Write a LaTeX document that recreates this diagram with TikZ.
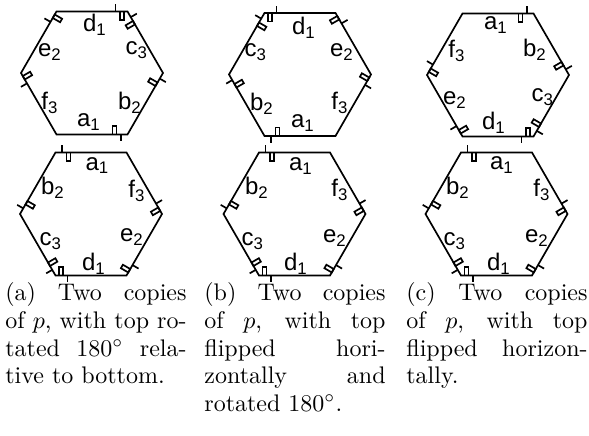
\documentclass[tikz,border=0pt]{standalone}
\usepackage{fontspec}
\newfontfamily\lblfont{Liberation Sans}
\begin{document}
\begin{tikzpicture}[x=0.4167pt, y=0.4167pt, line width=0.7pt,
        lbl/.style={font=\lblfont\fontsize{10}{12}\selectfont, inner sep=0pt},
        caption/.style={text width=75.5pt, align=justify, inner sep=0pt, anchor=north,
            font=\fontsize{10}{11.5}\selectfont},
        markedhex/.pic={
            % outline
            \draw (0:71) -- (60:71) -- (120:71) -- (180:71) -- (240:71) -- (300:71) -- cycle;
            % edges a, b, c: tick first, then flag
            \foreach \k in {0,1,2} {
                \begin{scope}[rotate=\k*60]
                    \draw (-29,61.5) -- (-29,68.5);
                    \draw (-24.5,61.5) rectangle (-20.5,53);
                \end{scope}
            }
            % edges d, e, f: flag first, then tick
            \foreach \k in {3,4,5} {
                \begin{scope}[rotate=\k*60]
                    \draw (23.5,61.5) -- (23.5,68.5);
                    \draw (28,61.5) rectangle (32,53);
                \end{scope}
            }
        }]
    \useasboundingbox (0,0) rectangle (589,436);

    % Hexagon centres
    \coordinate (TopA) at (92,363);
    \coordinate (BotA) at (91,222);
    \coordinate (TopB) at (300,361.5);
    \coordinate (BotB) at (294.5,222);
    \coordinate (TopC) at (498,361);
    \coordinate (BotC) at (496.5,222);

    % (a) top rotated 180
    \pic[rotate=180] at (TopA) {markedhex};
    \pic at (BotA) {markedhex};
    % (b) top flipped and rotated
    \pic[yscale=-1] at (TopB) {markedhex};
    \pic at (BotB) {markedhex};
    % (c) top flipped
    \pic[xscale=-1] at (TopC) {markedhex};
    \pic at (BotC) {markedhex};

    % Edge labels (a)
    \node[lbl] (ta-d) at (95,411) {d\textsubscript{1}};
    \node[lbl] (ta-e) at (50,384) {e\textsubscript{2}};
    \node[lbl] (ta-c) at (137,386) {c\textsubscript{3}};
    \node[lbl] (ta-f) at (50,333) {f\textsubscript{3}};
    \node[lbl] (ta-b) at (130,333) {b\textsubscript{2}};
    \node[lbl] (ta-a) at (89,314) {a\textsubscript{1}};
    \node[lbl] (ba-a) at (97.5,270.5) {a\textsubscript{1}};
    \node[lbl] (ba-b) at (53,248) {b\textsubscript{2}};
    \node[lbl] (ba-f) at (137,245) {f\textsubscript{3}};
    \node[lbl] (ba-c) at (51,195) {c\textsubscript{3}};
    \node[lbl] (ba-e) at (132,199) {e\textsubscript{2}};
    \node[lbl] (ba-d) at (94,172) {d\textsubscript{1}};

    % Edge labels (b)
    \node[lbl] (tb-d) at (304,408) {d\textsubscript{1}};
    \node[lbl] (tb-c) at (256,384) {c\textsubscript{3}};
    \node[lbl] (tb-e) at (342,384) {e\textsubscript{2}};
    \node[lbl] (tb-b) at (262,332) {b\textsubscript{2}};
    \node[lbl] (tb-f) at (340,333) {f\textsubscript{3}};
    \node[lbl] (tb-a) at (303,313) {a\textsubscript{1}};
    \node[lbl] (bb-a) at (301,270) {a\textsubscript{1}};
    \node[lbl] (bb-b) at (257,248) {b\textsubscript{2}};
    \node[lbl] (bb-f) at (340,246) {f\textsubscript{3}};
    \node[lbl] (bb-c) at (253,195) {c\textsubscript{3}};
    \node[lbl] (bb-e) at (335,198) {e\textsubscript{2}};
    \node[lbl] (bb-d) at (296,172) {d\textsubscript{1}};

    % Edge labels (c)
    \node[lbl] (tc-a) at (496,411) {a\textsubscript{1}};
    \node[lbl] (tc-f) at (457,385) {f\textsubscript{3}};
    \node[lbl] (tc-b) at (535,386) {b\textsubscript{2}};
    \node[lbl] (tc-e) at (455,336) {e\textsubscript{2}};
    \node[lbl] (tc-c) at (543,339) {c\textsubscript{3}};
    \node[lbl] (tc-d) at (494,313) {d\textsubscript{1}};
    \node[lbl] (bc-a) at (502,271) {a\textsubscript{1}};
    \node[lbl] (bc-b) at (458,248) {b\textsubscript{2}};
    \node[lbl] (bc-f) at (542,246) {f\textsubscript{3}};
    \node[lbl] (bc-c) at (455,195) {c\textsubscript{3}};
    \node[lbl] (bc-e) at (537,198) {e\textsubscript{2}};
    \node[lbl] (bc-d) at (499,172) {d\textsubscript{1}};

    % Captions
    \node[caption] (capA) at (96,154) {(a) Two copies\linebreak of $p$, with top ro-\linebreak tated $180^\circ$ rela-\linebreak tive to bottom.};
    \node[caption] (capB) at (295,154) {(b) Two copies\linebreak of $p$, with top\linebreak flipped hori-\linebreak zontally and\linebreak rotated $180^\circ$.};
    \node[caption] (capC) at (497,154) {(c) Two copies\linebreak of $p$, with top\linebreak flipped horizon-\linebreak tally.};
\end{tikzpicture}
\end{document}
